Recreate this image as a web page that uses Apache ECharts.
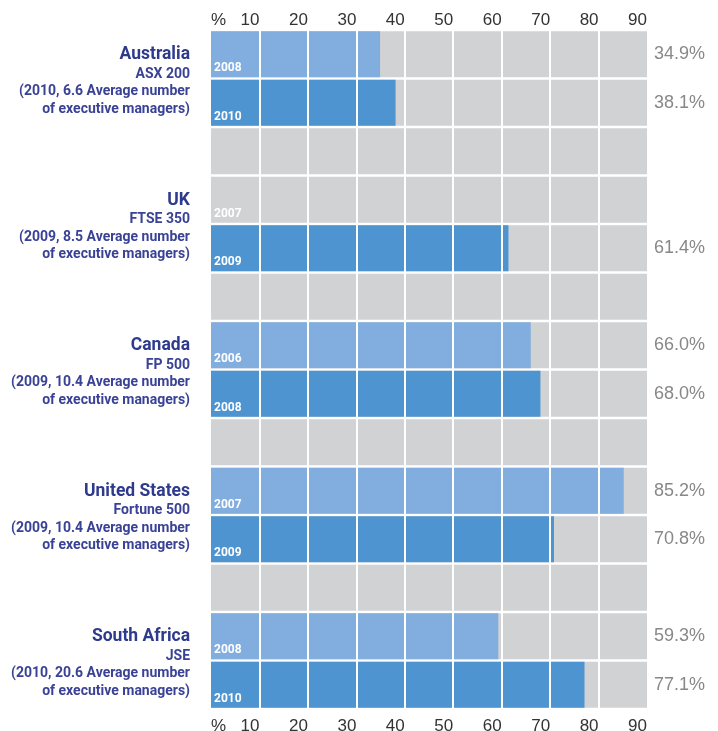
<!DOCTYPE html>
<html>
<head>
<meta charset="utf-8">
<script src="https://cdn.jsdelivr.net/npm/echarts@6/dist/echarts.min.js"></script>
<style>
html,body{margin:0;padding:0;background:#fff;}
#chart{width:718px;height:731px;}
</style>
</head>
<body>
<div id="chart"></div>
<script>
// ---- data ----
var countries = ['Australia', 'UK', 'Canada', 'United States', 'South Africa'];
var indices = ['ASX 200', 'FTSE 350', 'FP 500', 'Fortune 500', 'JSE'];
var notes = ['(2010, 6.6 Average number', '(2009, 8.5 Average number', '(2009, 10.4 Average number', '(2009, 10.4 Average number', '(2010, 20.6 Average number'];
var noteTail = 'of executive managers)';
var firstYears = ['2008', '2007', '2006', '2007', '2008'];
var firstValues = [34.9, null, 66.0, 85.2, 59.3];
var secondYears = ['2010', '2009', '2008', '2009', '2010'];
var secondValues = [38.1, 61.4, 68.0, 70.8, 77.1];
var axisMax = 90;
var tickStep = 10;

// ---- build rows (two bars per country + spacer row) ----
var rowCats = [], rowYears = [], rowVals = [], rowKind = [], rowCountry = [], rowPct = [];
countries.forEach(function (c, i) {
  rowCats.push('r' + rowCats.length); rowYears.push(firstYears[i]); rowVals.push(firstValues[i]); rowKind.push(0); rowCountry.push(i);
  rowPct.push(firstValues[i] == null ? '' : firstValues[i].toFixed(1) + '%');
  rowCats.push('r' + rowCats.length); rowYears.push(secondYears[i]); rowVals.push(secondValues[i]); rowKind.push(1); rowCountry.push(-1);
  rowPct.push(secondValues[i] == null ? '' : secondValues[i].toFixed(1) + '%');
  if (i < countries.length - 1) {
    rowCats.push('r' + rowCats.length); rowYears.push(''); rowVals.push(null); rowKind.push(-1); rowCountry.push(-1); rowPct.push('');
  }
});

var LIGHT = '#82addf', DARK = '#4d94d0', GRAY = '#d1d2d4';
var FONT = "Roboto, 'Liberation Sans', sans-serif";
var NUMFONT = "'Liberation Sans', 'Open Sans', sans-serif";

var valueData = rowVals.map(function (v, i) {
  return { value: v, itemStyle: { color: rowKind[i] === 0 ? LIGHT : DARK } };
});
var bgData = rowCats.map(function () { return axisMax; });
var gridLines = [];
for (var t = tickStep; t < axisMax; t += tickStep) gridLines.push({ xAxis: t });

var chart = echarts.init(document.getElementById('chart'), null, { renderer: 'canvas' });

var xAxisBase = function (pos, margin) {
  return {
    type: 'value', position: pos, min: 0, max: axisMax, interval: tickStep,
    axisLine: { show: false }, axisTick: { show: false }, splitLine: { show: false },
    axisLabel: {
      margin: margin, fontFamily: NUMFONT, fontSize: 17, color: '#333',
      align: 'right', alignMinLabel: 'left', alignMaxLabel: 'right',
      formatter: function (v) { return v === 0 ? '%' : String(v); }
    }
  };
};

chart.setOption({
  animation: false,
  grid: { left: 211, right: 71, top: 30, bottom: 22, containLabel: false, outerBoundsMode: 'none' },
  xAxis: [xAxisBase('bottom', 9), xAxisBase('top', 1)],
  yAxis: [{
    type: 'category', inverse: true, data: rowCats, position: 'left',
    axisLine: { show: false }, axisTick: { show: false }, splitLine: { show: false },
    axisLabel: {
      margin: 21, align: 'right', padding: [54, 0, 0, 0], interval: 0,
      formatter: function (v, i) {
        var c = rowCountry[i];
        if (c < 0) return '';
        return '{c|' + countries[c] + '}\n{s|' + indices[c] + '}\n{s|' + notes[c] + '}\n{s|' + noteTail + '}';
      },
      rich: {
        c: { fontFamily: FONT, fontSize: 17.5, fontWeight: 'bold', color: '#2e3a8c', lineHeight: 21, align: 'right' },
        s: { fontFamily: FONT, fontSize: 14, fontWeight: 'bold', color: '#3a4296', lineHeight: 17.5, align: 'right' }
      }
    }
  }, {
    type: 'category', inverse: true, data: rowCats, position: 'right',
    axisLine: { show: false }, axisTick: { show: false }, splitLine: { show: false },
    axisLabel: {
      margin: 7, align: 'left', interval: 0, padding: [10, 0, 0, 0],
      fontFamily: NUMFONT, fontSize: 18, color: '#888',
      formatter: function (v, i) { return rowPct[i]; }
    }
  }],
  series: [{
    name: 'bg', type: 'bar', z: 2, silent: true,
    barGap: '-100%', barCategoryGap: '5%',
    itemStyle: { color: GRAY },
    data: bgData
  }, {
    name: 'value', type: 'bar', z: 3, silent: true,
    barGap: '-100%', barCategoryGap: '5%',
    data: valueData
  }, {
    name: 'grid', type: 'scatter', z: 4, silent: true, data: [],
    markLine: {
      silent: true, symbol: 'none', label: { show: false },
      lineStyle: { color: '#fff', width: 2, type: 'solid' },
      data: gridLines
    }
  }, {
    name: 'years', type: 'bar', z: 5, silent: true,
    barGap: '-100%', barCategoryGap: '5%',
    itemStyle: { color: 'rgba(0,0,0,0)' },
    label: {
      show: true, position: 'insideBottomLeft', distance: 3,
      fontFamily: FONT, fontSize: 12, fontWeight: 'bold', color: '#fff',
      formatter: function (p) { return rowYears[p.dataIndex] || ''; }
    },
    data: bgData
  }]
});
</script>
</body>
</html>
